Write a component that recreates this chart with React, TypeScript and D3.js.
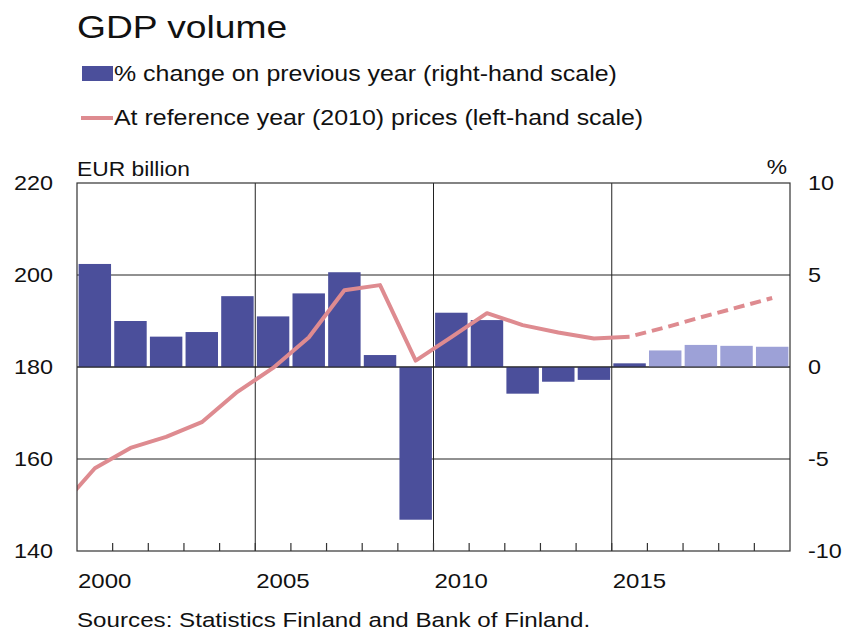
import { useEffect, useRef } from "react";
import * as d3 from "d3";

// GDP volume, Finland (Bank of Finland forecast)
const years = [2000, 2001, 2002, 2003, 2004, 2005, 2006, 2007, 2008, 2009, 2010, 2011, 2012, 2013, 2014, 2015, 2016, 2017, 2018, 2019];
const pctChange = [5.6, 2.5, 1.65, 1.9, 3.85, 2.75, 4.0, 5.15, 0.65, -8.3, 2.95, 2.55, -1.45, -0.8, -0.7, 0.2, 0.9, 1.2, 1.15, 1.1];
const forecastFrom = 2016;

// level at 2010 prices, EUR billion (1999 is drawn clipped at the left edge)
const levelYears = [1999, 2000, 2001, 2002, 2003, 2004, 2005, 2006, 2007, 2008, 2009, 2010, 2011, 2012, 2013, 2014, 2015, 2016, 2017, 2018, 2019];
const levels = [149.2, 158.0, 162.4, 164.8, 168.0, 174.6, 179.8, 186.4, 196.7, 197.8, 181.4, 186.5, 191.7, 189.1, 187.5, 186.2, 186.6, 188.6, 190.8, 192.9, 195.0];

const leftTicks = [140, 160, 180, 200, 220];
const rightTicks = [-10, -5, 0, 5, 10];
const labelYears = [2000, 2005, 2010, 2015];
const gridYears = [2005, 2010, 2015];

const FONT = "Liberation Sans, Arial, sans-serif";
const BAR = "#4b4f9b";
const BAR_LIGHT = "#9da1d7";
const LINE = "#de8b90";

type Sel = d3.Selection<SVGSVGElement, unknown, null, undefined>;

// the source's lettering is a little wider than Arial, so stretch it sideways
function label(svg: Sel, x: number, y: number, size: number, sx: number, txt: string, anchor = "start") {
  svg.append("text")
    .attr("transform", `translate(${x},${y}) scale(${sx},1)`)
    .attr("text-anchor", anchor)
    .attr("font-size", size)
    .attr("font-family", FONT)
    .attr("fill", "#111")
    .text(txt);
}

export default function App() {
  const svgRef = useRef<SVGSVGElement>(null);

  useEffect(() => {
    if (!svgRef.current) return;
    const width = 853;
    const height = 636;
    const margin = { top: 183, right: 63, bottom: 85, left: 77 };

    const svg = d3.select(svgRef.current);
    svg.selectAll("*").remove();
    svg.attr("width", width).attr("height", height);

    const x = d3.scaleBand<number>()
      .domain(years)
      .range([margin.left, width - margin.right])
      .paddingInner(0.09)
      .paddingOuter(0.045);
    const step = x.step();
    const edge = (yr: number) => margin.left + (yr - years[0]) * step;
    const mid = (yr: number) => edge(yr) + step / 2;

    const yL = d3.scaleLinear().domain([140, 220]).range([height - margin.bottom, margin.top]);
    const yR = d3.scaleLinear().domain([-10, 10]).range([height - margin.bottom, margin.top]);
    const plotBottom = height - margin.bottom;
    const plotRight = width - margin.right;

    svg.append("rect").attr("width", width).attr("height", height).attr("fill", "#fff");

    // Title and legend
    label(svg, 77, 38, 31, 1.2, "GDP volume");
    svg.append("rect").attr("x", 82).attr("y", 66).attr("width", 31).attr("height", 15).attr("fill", BAR);
    label(svg, 114, 81, 21.5, 1.16, "% change on previous year (right-hand scale)");
    svg.append("line").attr("x1", 81).attr("x2", 113).attr("y1", 118).attr("y2", 118)
      .attr("stroke", LINE).attr("stroke-width", 4);
    label(svg, 114, 125, 21.5, 1.16, "At reference year (2010) prices (left-hand scale)");

    // Axis titles
    label(svg, 77, 176, 19.5, 1.17, "EUR billion");
    label(svg, 787, 174, 19.5, 1.17, "%", "end");

    // Grid
    svg.selectAll("line.hgrid")
      .data(leftTicks.slice(1, -1))
      .join("line")
      .attr("class", "hgrid")
      .attr("x1", margin.left).attr("x2", plotRight)
      .attr("y1", (d) => yL(d)).attr("y2", (d) => yL(d))
      .attr("stroke", "#222").attr("stroke-width", 1);
    svg.selectAll("line.vgrid")
      .data(gridYears)
      .join("line")
      .attr("class", "vgrid")
      .attr("x1", (d) => edge(d)).attr("x2", (d) => edge(d))
      .attr("y1", margin.top).attr("y2", plotBottom)
      .attr("stroke", "#222").attr("stroke-width", 1);

    // Bars
    svg.selectAll("rect.bar")
      .data(years.map((yr, i) => ({ yr, v: pctChange[i] })))
      .join("rect")
      .attr("class", "bar")
      .attr("x", (d) => x(d.yr) as number)
      .attr("width", x.bandwidth())
      .attr("y", (d) => yR(Math.max(0, d.v)))
      .attr("height", (d) => Math.abs(yR(d.v) - yR(0)))
      .attr("fill", (d) => (d.yr >= forecastFrom ? BAR_LIGHT : BAR));

    // Zero line over the bars
    svg.append("line").attr("x1", margin.left).attr("x2", plotRight)
      .attr("y1", yR(0)).attr("y2", yR(0)).attr("stroke", "#222").attr("stroke-width", 1);

    // Level line
    svg.append("clipPath").attr("id", "plot-clip")
      .append("rect").attr("x", margin.left).attr("y", margin.top)
      .attr("width", plotRight - margin.left).attr("height", plotBottom - margin.top);
    const pts = levelYears.map((yr, i) => ({ yr, v: levels[i] }));
    const line = d3.line<{ yr: number; v: number }>().x((d) => mid(d.yr)).y((d) => yL(d.v));
    svg.append("path")
      .attr("d", line(pts.filter((d) => d.yr <= 2015)))
      .attr("clip-path", "url(#plot-clip)")
      .attr("fill", "none").attr("stroke", LINE).attr("stroke-width", 4)
      .attr("stroke-linejoin", "round");
    svg.append("path")
      .attr("d", line(pts.filter((d) => d.yr >= 2015)))
      .attr("fill", "none").attr("stroke", LINE).attr("stroke-width", 4)
      .attr("stroke-dasharray", "11,6").attr("stroke-dashoffset", -6);

    // Frame
    svg.append("rect").attr("x", margin.left).attr("y", margin.top)
      .attr("width", plotRight - margin.left).attr("height", plotBottom - margin.top)
      .attr("fill", "none").attr("stroke", "#333").attr("stroke-width", 1.2);

    // Year ticks on the bottom axis (inward)
    svg.selectAll("line.tick")
      .data(years.slice(1))
      .join("line")
      .attr("class", "tick")
      .attr("x1", (d) => edge(d)).attr("x2", (d) => edge(d))
      .attr("y1", plotBottom - 8).attr("y2", plotBottom)
      .attr("stroke", "#333").attr("stroke-width", 1.2);

    // Axis labels
    labelYears.forEach((yr) => label(svg, edge(yr) + 1, plotBottom + 37, 20, 1.2, String(yr)));
    leftTicks.forEach((v) => label(svg, 53, yL(v) + 7, 20, 1.17, String(v), "end"));
    rightTicks.forEach((v) => label(svg, 808, yR(v) + 7, 20, 1.17, String(v)));

    label(svg, 77, 627, 19.5, 1.24, "Sources: Statistics Finland and Bank of Finland.");
  }, []);

  return (
    <div style={{ position: "absolute", left: 0, top: 0 }}>
      <svg ref={svgRef} style={{ display: "block" }} />
    </div>
  );
}
